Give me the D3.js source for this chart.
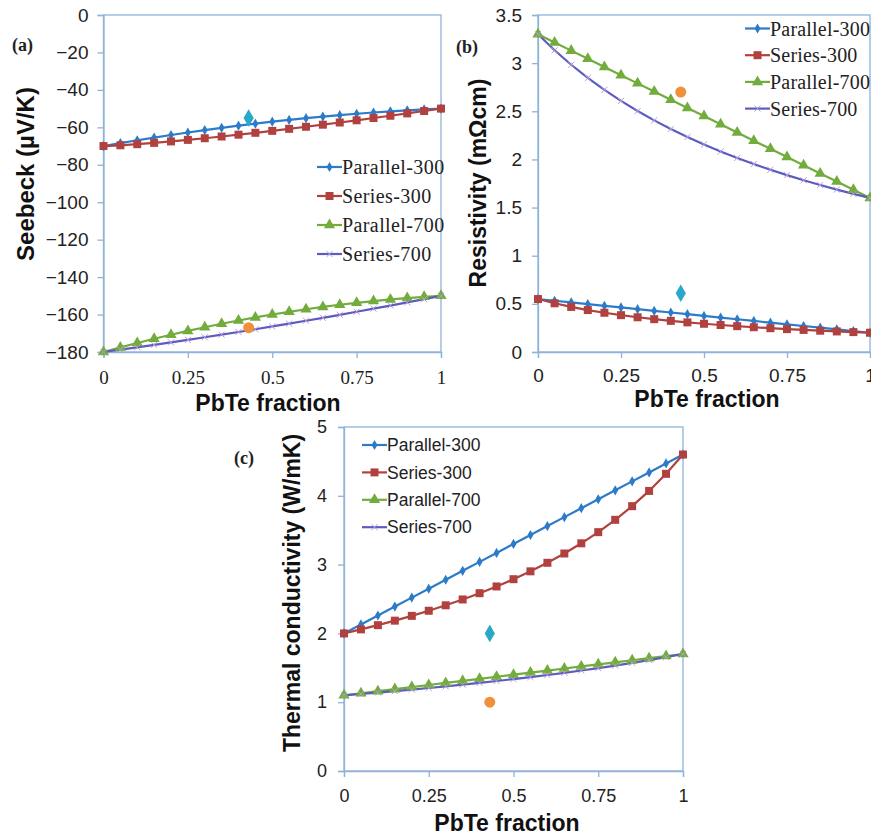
<!DOCTYPE html>
<html>
<head>
<meta charset="utf-8">
<script src="https://cdn.jsdelivr.net/npm/d3@7"></script>
<style>
  html, body { margin: 0; padding: 0; background: #ffffff; }
  svg { display: block; }
</style>
</head>
<body>
<div id="chart"></div>
<script>
// ---------------- DATA ----------------
const fraction = [0, 0.05, 0.1, 0.15, 0.2, 0.25, 0.3, 0.35, 0.4, 0.45, 0.5,
                  0.55, 0.6, 0.65, 0.7, 0.75, 0.8, 0.85, 0.9, 0.95, 1];
const seriesNames = ["Parallel-300", "Series-300", "Parallel-700", "Series-700"];

// (a) Seebeck (µV/K)
const seebeckParallel300 = [-70, -68.43, -66.92, -65.47, -64.08, -62.75, -61.48, -60.27, -59.12, -58.03, -57.0,
                            -56.03, -55.12, -54.27, -53.48, -52.75, -52.08, -51.47, -50.92, -50.43, -50];
const seebeckSeries300 = [-70, -69.59, -69.0, -68.3, -67.53, -66.7, -65.82, -64.89, -63.92, -62.92, -61.88,
                          -60.81, -59.7, -58.58, -57.42, -56.24, -55.03, -53.81, -52.56, -51.29, -50];
const seebeckParallel700 = [-180, -177.55, -175.19, -172.94, -170.78, -168.73, -166.78, -164.93, -163.18, -161.53, -159.98,
                            -158.53, -157.18, -155.93, -154.78, -153.73, -152.78, -151.94, -151.19, -150.55, -150];
const seebeckSeries700 = [-180, -178.76, -177.49, -176.19, -174.86, -173.51, -172.13, -170.73, -169.3, -167.84, -166.35,
                          -164.84, -163.3, -161.73, -160.13, -158.51, -156.86, -155.19, -153.49, -151.76, -150];

// (b) Resistivity (mΩcm)
const resistivityParallel300 = [0.55, 0.5325, 0.515, 0.4975, 0.48, 0.4625, 0.445, 0.4275, 0.41, 0.3925, 0.375,
                                0.3575, 0.34, 0.3225, 0.305, 0.2875, 0.27, 0.2525, 0.235, 0.2175, 0.2];
const resistivitySeries300 = [0.55, 0.5058, 0.4681, 0.4356, 0.4074, 0.3826, 0.3607, 0.3411, 0.3235, 0.3077, 0.2933,
                              0.2803, 0.2683, 0.2573, 0.2472, 0.2378, 0.2292, 0.2211, 0.2136, 0.2066, 0.2];
const resistivityParallel700 = [3.3, 3.215, 3.13, 3.045, 2.96, 2.875, 2.79, 2.705, 2.62, 2.535, 2.45,
                                2.365, 2.28, 2.195, 2.11, 2.025, 1.94, 1.855, 1.77, 1.685, 1.6];
const resistivitySeries700 = [3.3, 3.1335, 2.9831, 2.8463, 2.7217, 2.6074, 2.5024, 2.4055, 2.3158, 2.2326, 2.1551,
                              2.0829, 2.0153, 1.9519, 1.8925, 1.8365, 1.7838, 1.734, 1.6869, 1.6423, 1.6];

// (c) Thermal conductivity (W/mK)
const thermalParallel300 = [2.0, 2.13, 2.26, 2.39, 2.52, 2.65, 2.78, 2.91, 3.04, 3.17, 3.3,
                            3.43, 3.56, 3.69, 3.82, 3.95, 4.08, 4.21, 4.34, 4.47, 4.6];
const thermalSeries300 = [2.0, 2.0582, 2.1198, 2.1853, 2.2549, 2.3291, 2.4084, 2.4932, 2.5843, 2.6822, 2.7879,
                          2.9022, 3.0263, 3.1615, 3.3094, 3.4717, 3.6508, 3.8494, 4.0708, 4.3193, 4.6];
const thermalParallel700 = [1.1, 1.13, 1.16, 1.19, 1.22, 1.25, 1.28, 1.31, 1.34, 1.37, 1.4,
                            1.43, 1.46, 1.49, 1.52, 1.55, 1.58, 1.61, 1.64, 1.67, 1.7];
const thermalSeries700 = [1.1, 1.1198, 1.1402, 1.1615, 1.1835, 1.2065, 1.2303, 1.255, 1.2808, 1.3077, 1.3357,
                          1.365, 1.3955, 1.4275, 1.4609, 1.496, 1.5328, 1.5714, 1.6121, 1.6549, 1.7];

// measured single points (diamond = 300 K, circle = 700 K)
const measuredFraction = 0.43;
const seebeckMeasured = [-55, -167];
const resistivityMeasured = [0.61, 2.7];
const thermalMeasured = [2.0, 1.0];

// axis ticks
const fractionTicks = [0, 0.25, 0.5, 0.75, 1];
const fractionTickLabels = ["0", "0.25", "0.5", "0.75", "1"];
const seebeckTicks = [0, -20, -40, -60, -80, -100, -120, -140, -160, -180];
const resistivityTicks = [0, 0.5, 1, 1.5, 2, 2.5, 3, 3.5];
const thermalTicks = [0, 1, 2, 3, 4, 5];

// ---------------- STYLE ----------------
const SANS = "'Liberation Sans', Arial, Helvetica, sans-serif";
const SERIF = "'Liberation Serif', 'Times New Roman', Times, serif";
const AXIS_COLOR = "#8fb3d9";
const styles = [
  { color: "#2b7bc8", symbol: d3.symbolDiamond, size: 30, fill: true },
  { color: "#b0413e", symbol: d3.symbolSquare, size: 64, fill: true },
  { color: "#72ac3c", symbol: d3.symbolTriangle, size: 55, fill: true },
  { color: "#5c5cc0", symbol: d3.symbolTimes, size: 26, fill: false, markColor: "#b99ad8" }
];
const MEAS_DIAMOND = "#2aa8c8";
const MEAS_CIRCLE = "#f0903a";

const W = 871, H = 836;
const svg = d3.select("#chart").append("svg")
  .attr("width", W).attr("height", H)
  .attr("viewBox", `0 0 ${W} ${H}`);
svg.append("rect").attr("width", W).attr("height", H).attr("fill", "#fff");

function drawPanel(cfg) {
  const x = d3.scaleLinear().domain([0, 1]).range([cfg.left, cfg.right]);
  const y = d3.scaleLinear().domain(cfg.yDomain).range([cfg.bottom, cfg.top]);
  const g = svg.append("g");

  // frame
  g.append("rect")
    .attr("x", cfg.left).attr("y", cfg.top)
    .attr("width", cfg.right - cfg.left).attr("height", cfg.bottom - cfg.top)
    .attr("fill", "none").attr("stroke", AXIS_COLOR).attr("stroke-width", 1.3);

  // y axis
  const ya = g.append("g").attr("transform", `translate(${cfg.left},0)`)
    .call(d3.axisLeft(y).tickValues(cfg.yTicks).tickSize(6).tickPadding(cfg.yPad)
      .tickFormat(cfg.yFormat));
  ya.selectAll("path, line").attr("stroke", AXIS_COLOR).attr("stroke-width", 1.3);
  ya.selectAll("text").attr("font-family", SANS).attr("font-size", cfg.yTickSize)
    .attr("fill", "#222");

  // x axis
  const xa = g.append("g").attr("transform", `translate(0,${cfg.bottom})`)
    .call(d3.axisBottom(x).tickValues(fractionTicks).tickSize(6).tickPadding(cfg.xPad)
      .tickFormat((d, i) => fractionTickLabels[i]));
  xa.selectAll("path, line").attr("stroke", AXIS_COLOR).attr("stroke-width", 1.3);
  xa.selectAll("text").attr("font-family", cfg.xTickFont).attr("font-size", cfg.xTickSize)
    .attr("fill", "#222");

  // series
  const line = d3.line().x((d, i) => x(fraction[i])).y(d => y(d));
  cfg.series.forEach((vals, k) => {
    const st = styles[k];
    g.append("path").datum(vals).attr("d", line)
      .attr("fill", "none").attr("stroke", st.color).attr("stroke-width", 2.2);
  });
  cfg.series.forEach((vals, k) => {
    const st = styles[k];
    const sym = d3.symbol().type(st.symbol).size(st.size);
    g.append("g").selectAll("path").data(vals).join("path")
      .attr("transform", (d, i) => `translate(${x(fraction[i])},${y(d)})`)
      .attr("d", sym)
      .attr("fill", st.fill ? st.color : "none")
      .attr("stroke", st.fill ? "none" : st.markColor)
      .attr("stroke-width", 1);
  });

  // measured points
  g.append("path")
    .attr("transform", `translate(${x(measuredFraction)},${y(cfg.measured[0])})`)
    .attr("d", d3.symbol().type(d3.symbolDiamond).size(90))
    .attr("fill", MEAS_DIAMOND);
  g.append("circle")
    .attr("cx", x(measuredFraction)).attr("cy", y(cfg.measured[1])).attr("r", 5.5)
    .attr("fill", MEAS_CIRCLE);

  // legend
  seriesNames.forEach((name, k) => {
    const st = styles[k];
    const ly = cfg.legY + k * cfg.legDy;
    g.append("line").attr("x1", cfg.legX).attr("x2", cfg.legX + 25)
      .attr("y1", ly).attr("y2", ly)
      .attr("stroke", st.color).attr("stroke-width", 2.2);
    g.append("path").attr("transform", `translate(${cfg.legX + 12.5},${ly})`)
      .attr("d", d3.symbol().type(st.symbol).size(st.size))
      .attr("fill", st.fill ? st.color : "none")
      .attr("stroke", st.fill ? "none" : st.markColor).attr("stroke-width", 1);
    g.append("text").attr("x", cfg.legX + 25).attr("y", ly)
      .attr("dy", "0.35em")
      .attr("font-family", cfg.legFont).attr("font-size", cfg.legSize)
      .attr("letter-spacing", cfg.legSpacing)
      .attr("fill", "#222").text(name);
  });

  // axis titles
  g.append("text")
    .attr("transform", `translate(${cfg.yTitleX},${cfg.yTitleY}) rotate(-90)`)
    .attr("text-anchor", "middle").attr("dy", "0.35em")
    .attr("font-family", SANS).attr("font-weight", "bold").attr("font-size", cfg.yTitleSize)
    .attr("fill", "#111").text(cfg.yTitle);
  g.append("text")
    .attr("x", cfg.xTitleX).attr("y", cfg.xTitleY)
    .attr("text-anchor", "middle")
    .attr("font-family", SANS).attr("font-weight", "bold").attr("font-size", 23)
    .attr("fill", "#111").text("PbTe fraction");

  // panel label
  g.append("text").attr("x", cfg.labX).attr("y", cfg.labY).attr("dy", "0.35em")
    .attr("font-family", SERIF).attr("font-weight", "bold").attr("font-size", 18)
    .attr("fill", "#222").text(cfg.label);
}

const fmtMinus = d => d3.format("")(d);

drawPanel({
  left: 103.5, right: 441, top: 15, bottom: 352,
  yDomain: [-180, 0], yTicks: seebeckTicks, yFormat: fmtMinus, yPad: 9, yTickSize: 19,
  xPad: 13, xTickFont: SERIF, xTickSize: 19,
  series: [seebeckParallel300, seebeckSeries300, seebeckParallel700, seebeckSeries700],
  measured: seebeckMeasured,
  legX: 317, legY: 167, legDy: 29, legFont: SERIF, legSize: 20, legSpacing: 0.4,
  yTitle: "Seebeck (µV/K)", yTitleX: 26, yTitleY: 174, yTitleSize: 24,
  xTitleX: 268, xTitleY: 411,
  label: "(a)", labX: 12, labY: 45
});

drawPanel({
  left: 538, right: 870, top: 15, bottom: 352,
  yDomain: [0, 3.5], yTicks: resistivityTicks, yFormat: d => String(d), yPad: 10, yTickSize: 19,
  xPad: 11, xTickFont: SANS, xTickSize: 19,
  series: [resistivityParallel300, resistivitySeries300, resistivityParallel700, resistivitySeries700],
  measured: resistivityMeasured,
  legX: 745, legY: 28.5, legDy: 26.7, legFont: SERIF, legSize: 20, legSpacing: 0.2,
  yTitle: "Resistivity (mΩcm)", yTitleX: 478, yTitleY: 183, yTitleSize: 23,
  xTitleX: 707, xTitleY: 407,
  label: "(b)", labX: 456, labY: 47
});

drawPanel({
  left: 344, right: 683, top: 427, bottom: 771,
  yDomain: [0, 5], yTicks: thermalTicks, yFormat: d => String(d), yPad: 11, yTickSize: 18,
  xPad: 12, xTickFont: SANS, xTickSize: 18,
  series: [thermalParallel300, thermalSeries300, thermalParallel700, thermalSeries700],
  measured: thermalMeasured,
  legX: 362, legY: 445, legDy: 27.4, legFont: SANS, legSize: 17.5, legSpacing: 0,
  yTitle: "Thermal conductivity (W/mK)", yTitleX: 292, yTitleY: 593, yTitleSize: 23,
  xTitleX: 507, xTitleY: 831,
  label: "(c)", labX: 234, labY: 458
});
</script>
</body>
</html>
